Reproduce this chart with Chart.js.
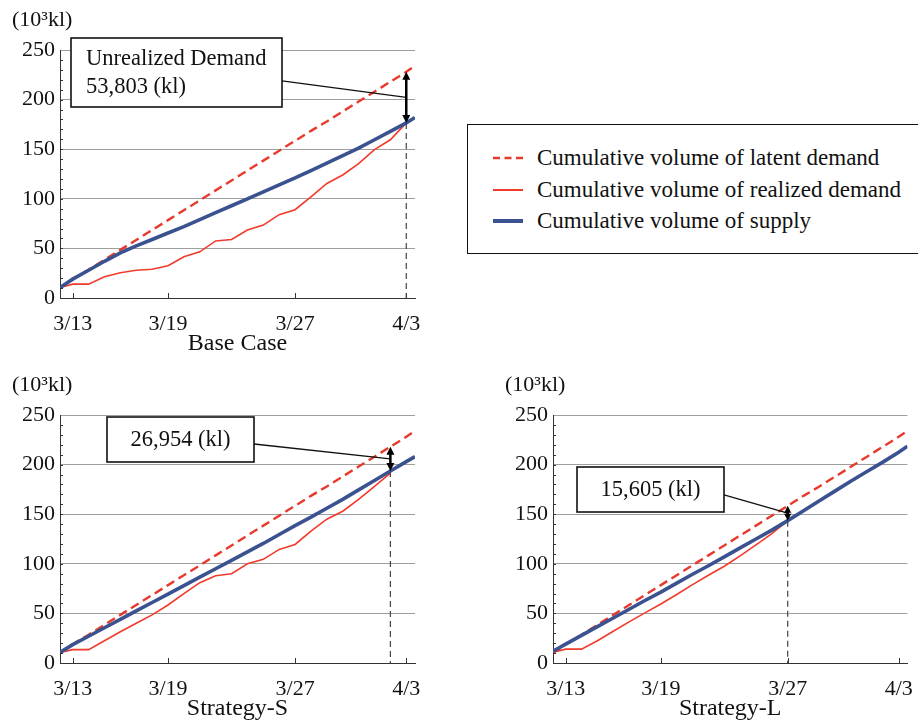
<!DOCTYPE html>
<html>
<head>
<meta charset="utf-8">
<script src="https://cdn.jsdelivr.net/npm/chart.js@4.4.0/dist/chart.umd.min.js"></script>
<style>
  body { margin: 0; background: #fff; width: 918px; height: 727px; overflow: hidden; position: relative;
         font-family: "Liberation Serif", "Times New Roman", serif; color: #111; }
  canvas { position: absolute; }
  #legend { position: absolute; left: 467px; top: 124px; width: 480px; height: 130px;
            border: 1.5px solid #111; box-sizing: border-box; }
  .row { position: absolute; left: 25px; height: 30px; display: flex; align-items: center; font-size: 23px; white-space: nowrap; }
  .row svg { margin-right: 14px; }
</style>
</head>
<body>
<canvas id="base" width="460" height="360" style="left:0;top:0"></canvas>
<canvas id="stratS" width="460" height="360" style="left:0;top:365px"></canvas>
<canvas id="stratL" width="425" height="360" style="left:493px;top:365px"></canvas>
<div id="legend"></div>
<script>
// x = days counted from 3/13 (first sample is late on 3/12)
const days = [-0.8, 0, 1, 2, 3, 4, 5, 6, 7, 8, 9, 10, 11, 12, 13, 14, 15, 16, 17, 18, 19, 20, 21, 21.55];
const tickDays = [0, 6, 14, 21];
const tickLabels = ['3/13', '3/19', '3/27', '4/3'];
const seriesLabels = ['Cumulative volume of latent demand', 'Cumulative volume of realized demand', 'Cumulative volume of supply'];
const chartTitles = ['Base Case', 'Strategy-S', 'Strategy-L'];

// 10^3 kl
const latentDemand = [10, 19, 28.5, 38.5, 48.5, 58.5, 68.5, 78.5, 88.5, 98.5, 108.5, 118.5, 128.5, 138.5, 148.5, 158.5, 168.5, 178, 188, 198, 208, 218, 228, 234];

const baseRealized = [10.5, 14, 14, 21.5, 25.5, 28, 29, 32.5, 41.5, 46.5, 57.5, 59, 68.5, 73.5, 84, 89, 102, 115.5, 124, 135.5, 149.5, 159.5, 176.5];
const baseSupply = [10.5, 19, 28, 37, 45.5, 52.5, 59, 65.5, 72, 79, 86, 93, 100, 107, 114, 121, 128.5, 136, 143.5, 151, 159.5, 168, 176.5, 182];

const sRealized = [10.7, 13.5, 13.5, 22.5, 31.5, 40, 48.5, 58.5, 70, 81, 88, 90, 100, 104.5, 114.5, 119.5, 133, 145, 153, 165, 178, 191.5];
const sSupply = [10.7, 18.5, 27, 35.5, 44, 52.5, 61, 69.5, 78, 86.5, 95, 103.5, 112, 120.5, 129.5, 138.5, 147, 156, 165, 174.5, 184, 193.5, 203, 208];

const lRealized = [10.8, 14, 14, 22.5, 32, 41.5, 50.5, 59.5, 69, 79, 88.5, 97.5, 108, 119, 130.5, 143.5];
const lSupply = [11.8, 19, 27.8, 36.6, 45.4, 54.2, 63, 71.5, 80.5, 89.5, 98, 107, 116, 125, 134, 143.5, 153.5, 163.5, 173.5, 183.5, 193, 202.5, 212.5, 218.5];

const cutDays = [21, 20, 14];
const noteTexts = [['Unrealized Demand', '53,803 (kl)'], ['26,954 (kl)'], ['15,605 (kl)']];

const RED = '#f23a2b';
const RED_DASH = '#e83a2c';
const BLUE = '#3a5290';
const FONT = '"Liberation Serif", "Times New Roman", serif';

// box placement relative to chart area (left, top, width, height, leader anchor, text align)
const boxes = [
  { l: 11, t: -12, w: 211, h: 69, anchor: 0.62, align: 'left' },
  { l: 47, t: 2, w: 147, h: 45, anchor: 0.6, align: 'center' },
  { l: 24, t: 52, w: 147, h: 45, anchor: 0.62, align: 'center' }
];

function pts(arr) {
  return arr.map((v, i) => ({ x: days[i], y: v }));
}

function framePlugin(k, supply) {
  return {
    id: 'frame' + k,
    afterDatasetsDraw(chart) {
      const { ctx, chartArea: a, scales: { x, y } } = chart;
      ctx.save();
      // inner tick marks
      ctx.strokeStyle = '#333';
      ctx.lineWidth = 1;
      ctx.beginPath();
      for (let v = 10; v < 250; v += 10) {
        const py = Math.round(y.getPixelForValue(v)) + 0.5;
        ctx.moveTo(a.left, py); ctx.lineTo(a.left + 3, py);
      }
      tickDays.forEach(d => {
        const px = Math.round(x.getPixelForValue(d)) + 0.5;
        ctx.moveTo(px, a.bottom); ctx.lineTo(px, a.bottom - 5);
      });
      ctx.stroke();

      // unit
      ctx.fillStyle = '#111';
      ctx.font = '22px ' + FONT;
      ctx.textAlign = 'left';
      ctx.textBaseline = 'middle';
      ctx.fillText('(10³kl)', a.left - 48, a.top - 30);

      // unrealized demand marker
      const i = days.indexOf(cutDays[k]);
      const px = x.getPixelForValue(cutDays[k]);
      const yTop = y.getPixelForValue(latentDemand[i]);
      const yBot = y.getPixelForValue(supply[i]);

      ctx.strokeStyle = '#444';
      ctx.lineWidth = 1.2;
      ctx.setLineDash([6, 4]);
      ctx.beginPath();
      ctx.moveTo(px, yBot); ctx.lineTo(px, a.bottom);
      ctx.stroke();
      ctx.setLineDash([]);

      const b = boxes[k];
      const bx = a.left + b.l, by = a.top + b.t;
      ctx.strokeStyle = '#111';
      ctx.lineWidth = 1.3;
      ctx.beginPath();
      ctx.moveTo(bx + b.w, by + b.h * b.anchor);
      ctx.lineTo(px, (yTop + yBot) / 2);
      ctx.stroke();

      ctx.fillStyle = '#fff';
      ctx.fillRect(bx, by, b.w, b.h);
      ctx.lineWidth = 1.6;
      ctx.strokeRect(bx, by, b.w, b.h);

      ctx.fillStyle = '#111';
      ctx.font = '22.5px ' + FONT;
      const lines = noteTexts[k];
      if (b.align === 'left') {
        ctx.textAlign = 'left';
        ctx.textBaseline = 'alphabetic';
        lines.forEach((t, j) => ctx.fillText(t, bx + 15, by + 27 + j * 28));
      } else {
        ctx.textAlign = 'center';
        ctx.textBaseline = 'middle';
        ctx.fillText(lines[0], bx + b.w / 2, by + b.h / 2 + 1);
      }

      // double arrow
      ctx.strokeStyle = '#000';
      ctx.fillStyle = '#000';
      ctx.lineWidth = 2.5;
      ctx.beginPath();
      ctx.moveTo(px, yTop + 6); ctx.lineTo(px, yBot - 6);
      ctx.stroke();
      ctx.beginPath();
      ctx.moveTo(px, yTop); ctx.lineTo(px - 4, yTop + 8); ctx.lineTo(px + 4, yTop + 8); ctx.closePath();
      ctx.moveTo(px, yBot); ctx.lineTo(px - 4, yBot - 8); ctx.lineTo(px + 4, yBot - 8); ctx.closePath();
      ctx.fill();
      ctx.restore();
    }
  };
}

function makeChart(id, k, realized, supply, rightPad) {
  return new Chart(document.getElementById(id), {
    type: 'line',
    data: {
      datasets: [
        { label: seriesLabels[2], data: pts(supply), borderColor: BLUE, borderWidth: 3.6, order: 0 },
        { label: seriesLabels[0], data: pts(latentDemand), borderColor: RED_DASH, borderWidth: 2.4, borderDash: [9, 5], order: 1 },
        { label: seriesLabels[1], data: pts(realized), borderColor: RED, borderWidth: 1.6, order: 2 }
      ]
    },
    options: {
      responsive: false,
      animation: false,
      elements: { point: { radius: 0 }, line: { tension: 0, borderCapStyle: 'butt' } },
      layout: { padding: { top: 50, right: rightPad, left: 0, bottom: 0 } },
      plugins: { legend: { display: false }, tooltip: { enabled: false } },
      scales: {
        x: {
          type: 'linear', min: -0.8, max: 21.55,
          afterBuildTicks: s => { s.ticks = tickDays.map(v => ({ value: v })); },
          afterFit: s => { s.height = 62; },
          ticks: {
            autoSkip: false, maxRotation: 0, padding: 5, color: '#111',
            font: { family: FONT, size: 22 },
            callback: v => tickLabels[tickDays.indexOf(v)]
          },
          grid: { display: false },
          border: { display: true, color: '#333', width: 1 },
          title: { display: true, text: chartTitles[k], color: '#111', font: { family: FONT, size: 24 }, padding: { top: 0, bottom: 2 } }
        },
        y: {
          min: 0, max: 250,
          afterFit: s => { s.width = 60; },
          ticks: { stepSize: 50, padding: 5, color: '#111', font: { family: FONT, size: 22 } },
          grid: { color: '#9e9e9e', lineWidth: 1, drawTicks: false },
          border: { display: true, color: '#333', width: 1 }
        }
      }
    },
    plugins: [framePlugin(k, supply)]
  });
}

makeChart('base', 0, baseRealized, baseSupply, 45);
makeChart('stratS', 1, sRealized, sSupply, 45);
makeChart('stratL', 2, lRealized, lSupply, 10);

// legend
const legendStyles = [
  { color: RED_DASH, width: 2.5, dash: '7,4.5' },
  { color: RED, width: 2, dash: '' },
  { color: BLUE, width: 4, dash: '' }
];
const legend = document.getElementById('legend');
seriesLabels.forEach((label, i) => {
  const s = legendStyles[i];
  const row = document.createElement('div');
  row.className = 'row';
  row.style.top = (18 + i * 31.7) + 'px';
  row.innerHTML = '<svg width="30" height="6"><line x1="0" y1="3" x2="30" y2="3" stroke="' + s.color +
    '" stroke-width="' + s.width + '"' + (s.dash ? ' stroke-dasharray="' + s.dash + '"' : '') + '/></svg>' +
    '<span>' + label + '</span>';
  legend.appendChild(row);
});
</script>
</body>
</html>
